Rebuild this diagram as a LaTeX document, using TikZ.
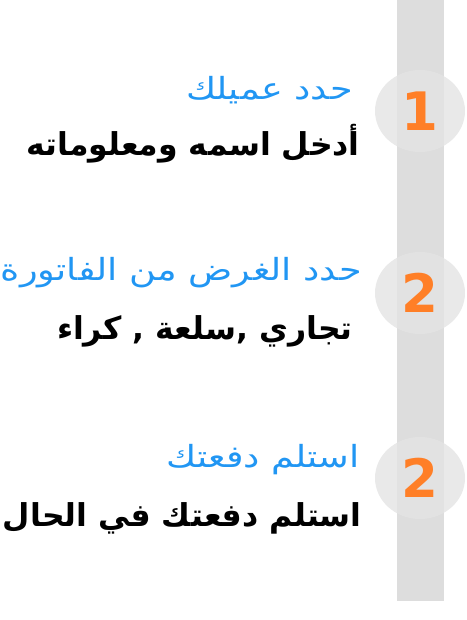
\documentclass[tikz,border=0pt]{standalone}
\usepackage{fontspec}
\usepackage{xcolor}
\usepackage{tikz}
\usetikzlibrary{shapes.geometric, positioning}
\TeXXeTstate=1
\newfontfamily\arabicfont[Script=Arabic]{DejaVu Sans}
\newfontfamily\arabicwide[Script=Arabic, FakeStretch=1.2]{DejaVu Sans}

\definecolor{barGray}{HTML}{DDDDDD}
\definecolor{badgeGray}{HTML}{E4E4E4}
\definecolor{titleBlue}{HTML}{2196F3}
\definecolor{numOrange}{HTML}{FF7F27}

\begin{document}
\begin{tikzpicture}[
  x=1pt, y=-1pt,
  badge/.style={
    ellipse,
    fill=badgeGray,
    fill opacity=0.8,
    text opacity=1,
    minimum width=90pt,
    minimum height=82pt,
    inner sep=0pt,
    text=numOrange,
    font=\arabicfont\bfseries\fontsize{53}{53}\selectfont
  },
  title/.style={
    anchor=east,
    inner sep=0pt,
    text=titleBlue,
    font=\arabicwide\fontsize{30.5}{33}\selectfont
  },
  desc/.style={
    anchor=east,
    inner sep=0pt,
    text=black,
    font=\arabicfont\bfseries\fontsize{31.5}{34}\selectfont
  }
]
\useasboundingbox (0,0) rectangle (466,620);

% =========================================================
% Vertical bar
% =========================================================
\fill[barGray] (397,0) rectangle (444,601);

% =========================================================
% Numbered badges
% =========================================================
\node[badge] (num1) at (420,111) {1};
\node[badge] (num2) at (420,293) {2};
\node[badge] (num3) at (420,478) {2};

% =========================================================
% Texts (right aligned to the bar)
% =========================================================
\node[title] (title1) at (353,90)  {\beginR حدد عميلك\endR};
\node[desc]  (desc1)  at (360,144) {\beginR أدخل اسمه ومعلوماته\endR};

\node[title] (title2) at (362,273) {\beginR حدد الغرض من الفاتورة\endR};
\node[desc]  (desc2)  at (353,331) {\beginR تجاري ,سلعة , كراء\endR};

\node[title] (title3) at (360,460) {\beginR استلم دفعتك\endR};
\node[desc]  (desc3)  at (362,518) {\beginR استلم دفعتك في الحال\endR};

\end{tikzpicture}
\end{document}
